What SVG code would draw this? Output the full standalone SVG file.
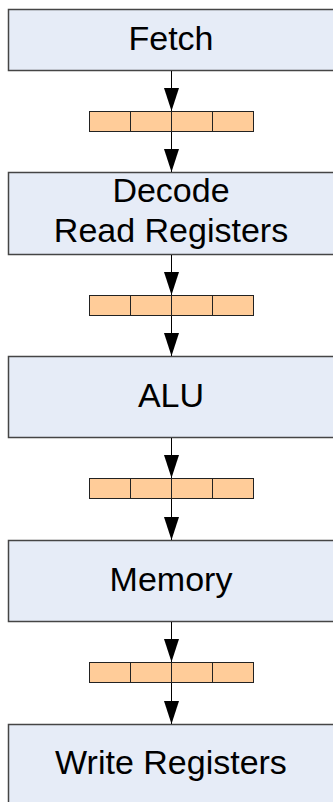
<svg xmlns="http://www.w3.org/2000/svg" width="333" height="802" viewBox="0 0 333 802">
<style>
.box{fill:#E6ECF7;stroke:#454545;stroke-width:1.5}
.reg{fill:#FFCC99;stroke:#222;stroke-width:1}
.lbl{font-family:"Liberation Sans",Arial,sans-serif;font-size:34px;fill:#000;text-anchor:middle}
.wire{stroke:#000;stroke-width:1;fill:none}
</style>
<defs>
<marker id="ah" markerUnits="userSpaceOnUse" markerWidth="24" markerHeight="16" viewBox="0 0 24 16" refX="23" refY="8" orient="auto">
<polygon points="0,0.5 23,8 0,15.5" fill="#000"/>
</marker>
</defs>
<rect x="0" y="0" width="333" height="802" fill="#fff"/>
<g id="fetch">
<rect class="box" x="8.5" y="9.5" width="330" height="61"/>
<text class="lbl" x="171" y="50">Fetch</text>
</g>
<g id="decode">
<rect class="box" x="8.5" y="172.5" width="330" height="82"/>
<text class="lbl" x="171" y="202">Decode</text>
<text class="lbl" x="171" y="242">Read Registers</text>
</g>
<g id="alu">
<rect class="box" x="8.5" y="356.5" width="330" height="81"/>
<text class="lbl" x="171" y="407">ALU</text>
</g>
<g id="memory">
<rect class="box" x="8.5" y="540.5" width="330" height="81"/>
<text class="lbl" x="171" y="591">Memory</text>
</g>
<g id="write">
<rect class="box" x="8.5" y="724.5" width="330" height="90"/>
<text class="lbl" x="171" y="773.5">Write Registers</text>
</g>
<g id="reg1">
<rect class="reg" x="89.5" y="111.5" width="164" height="20"/>
<path class="reg" d="M130.5 111.5V131.5M171.5 111.5V131.5M212.5 111.5V131.5"/>
</g>
<g id="reg2">
<rect class="reg" x="89.5" y="295.5" width="164" height="20"/>
<path class="reg" d="M130.5 295.5V315.5M171.5 295.5V315.5M212.5 295.5V315.5"/>
</g>
<g id="reg3">
<rect class="reg" x="89.5" y="478.5" width="164" height="20"/>
<path class="reg" d="M130.5 478.5V498.5M171.5 478.5V498.5M212.5 478.5V498.5"/>
</g>
<g id="reg4">
<rect class="reg" x="89.5" y="662.5" width="164" height="20"/>
<path class="reg" d="M130.5 662.5V682.5M171.5 662.5V682.5M212.5 662.5V682.5"/>
</g>
<g id="connectors">
<path class="wire" d="M171.5 71V111" marker-end="url(#ah)"/>
<path class="wire" d="M171.5 132V172" marker-end="url(#ah)"/>
<path class="wire" d="M171.5 255V295" marker-end="url(#ah)"/>
<path class="wire" d="M171.5 316V356" marker-end="url(#ah)"/>
<path class="wire" d="M171.5 438V478" marker-end="url(#ah)"/>
<path class="wire" d="M171.5 499V540" marker-end="url(#ah)"/>
<path class="wire" d="M171.5 622V662" marker-end="url(#ah)"/>
<path class="wire" d="M171.5 683V724" marker-end="url(#ah)"/>
</g>
</svg>
